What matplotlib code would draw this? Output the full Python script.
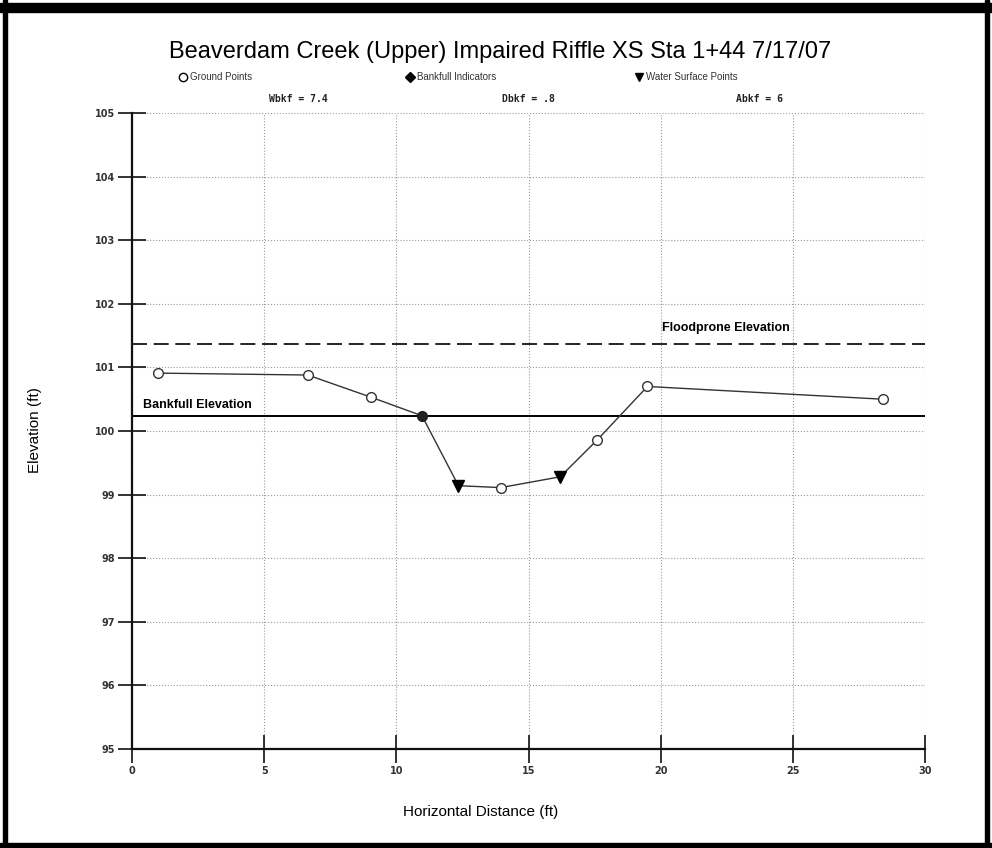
import matplotlib
matplotlib.use("Agg")
import matplotlib.pyplot as plt
from matplotlib.lines import Line2D
from matplotlib.patches import Rectangle

# ---- data ----
station = [1.0, 6.65, 9.05, 10.97, 12.35, 13.95, 16.2, 17.6, 19.5, 28.4]
elev = [100.91, 100.88, 100.53, 100.24, 99.14, 99.11, 99.28, 99.86, 100.70, 100.50]
bankfull_idx = [3]
water_idx = [4, 6]

bankfull_elev = 100.23
floodprone_elev = 101.37

x_ticks = [0, 5, 10, 15, 20, 25, 30]
y_ticks = [95, 96, 97, 98, 99, 100, 101, 102, 103, 104, 105]

title = "Beaverdam Creek (Upper) Impaired Riffle XS Sta 1+44 7/17/07"
stats = ["Wbkf = 7.4", "Dbkf = .8", "Abkf = 6"]
legend_labels = ["Ground Points", "Bankfull Indicators", "Water Surface Points"]

plt.rcParams["font.family"] = ["Liberation Sans", "DejaVu Sans"]

W, H = 992, 848
fig = plt.figure(figsize=(W / 100, H / 100), dpi=100)
fig.patch.set_facecolor("white")

def fx(px):
    return px / W

def fy(py):
    return 1 - py / H

ax = fig.add_axes([fx(132), fy(749), fx(925 - 132), (749 - 113) / H])
ax.set_xlim(0, 30)
ax.set_ylim(95, 105)
ax.set_xticks(x_ticks)
ax.set_yticks(y_ticks)
ax.grid(True, color="#9a9a9a", linestyle=":", linewidth=0.8)
ax.set_axisbelow(True)

for s in ["top", "right"]:
    ax.spines[s].set_visible(False)
for s in ["left", "bottom"]:
    ax.spines[s].set_linewidth(1.6)
    ax.spines[s].set_color("#111111")

ax.tick_params(direction="inout", length=20, width=1.2, color="#111111",
               labelsize=7, pad=2)
for lab in ax.get_xticklabels() + ax.get_yticklabels():
    lab.set_fontweight("bold")
    lab.set_family("DejaVu Sans")
    lab.set_color("#333333")

# reference lines
ax.axhline(bankfull_elev, color="black", linewidth=1.4)
ax.axhline(floodprone_elev, color="black", linewidth=1.2, linestyle=(0, (9, 4)))
ax.text(0.42, bankfull_elev + 0.08, "Bankfull Elevation", fontsize=9,
        fontweight="bold", va="bottom", ha="left")
ax.text(20.05, floodprone_elev + 0.16, "Floodprone Elevation", fontsize=9,
        fontweight="bold", va="bottom", ha="left")

# ground profile
ax.plot(station, elev, color="#333333", linewidth=1.0, zorder=3)
ground_idx = [i for i in range(len(station)) if i not in bankfull_idx + water_idx]
ax.plot([station[i] for i in ground_idx], [elev[i] for i in ground_idx],
        linestyle="none", marker="o", markersize=7, markerfacecolor="white",
        markeredgecolor="#333333", markeredgewidth=1.0, zorder=4)
ax.plot([station[i] for i in bankfull_idx], [elev[i] for i in bankfull_idx],
        linestyle="none", marker="o", markersize=7, markerfacecolor="#222222",
        markeredgecolor="#222222", zorder=4)
ax.plot([station[i] for i in water_idx], [elev[i] for i in water_idx],
        linestyle="none", marker="v", markersize=8, markerfacecolor="black",
        markeredgecolor="black", zorder=4)

# title, legend row and stats row
fig.text(fx(500), fy(52), title, fontsize=17, ha="center", va="center")

leg_markers = [("o", "white"), ("D", "black"), ("v", "black")]
leg_x = [183, 410, 639]
for (m, fc), lx, lab in zip(leg_markers, leg_x, legend_labels):
    fig.add_artist(Line2D([fx(lx)], [fy(77)], transform=fig.transFigure,
                          marker=m, markersize=6 if m != "D" else 5,
                          markerfacecolor=fc, markeredgecolor="black",
                          linestyle="none"))
    fig.text(fx(lx + 7), fy(77), lab, fontsize=7, va="center", ha="left",
             color="#333333")

stat_x = [298, 528, 759]
for sx, st in zip(stat_x, stats):
    fig.text(fx(sx), fy(99), st, fontsize=7, ha="center", va="center",
             family="DejaVu Sans Mono", fontweight="bold", color="#222222")

# axis labels
fig.text(fx(35), fy(430), "Elevation (ft)", fontsize=11, rotation=90,
         ha="center", va="center")
fig.text(fx(481), fy(812), "Horizontal Distance (ft)", fontsize=11,
         ha="center", va="center")

# black frame around the picture
fig.patches.extend([
    Rectangle((0, fy(12)), 1, 9 / H, transform=fig.transFigure, color="black"),
    Rectangle((fx(3), 0), 4 / W, 1, transform=fig.transFigure, color="black"),
    Rectangle((fx(985), 0), 4 / W, 1, transform=fig.transFigure, color="black"),
    Rectangle((0, 0), 1, 5 / H, transform=fig.transFigure, color="black"),
])

fig.savefig("out.png", dpi=100)
